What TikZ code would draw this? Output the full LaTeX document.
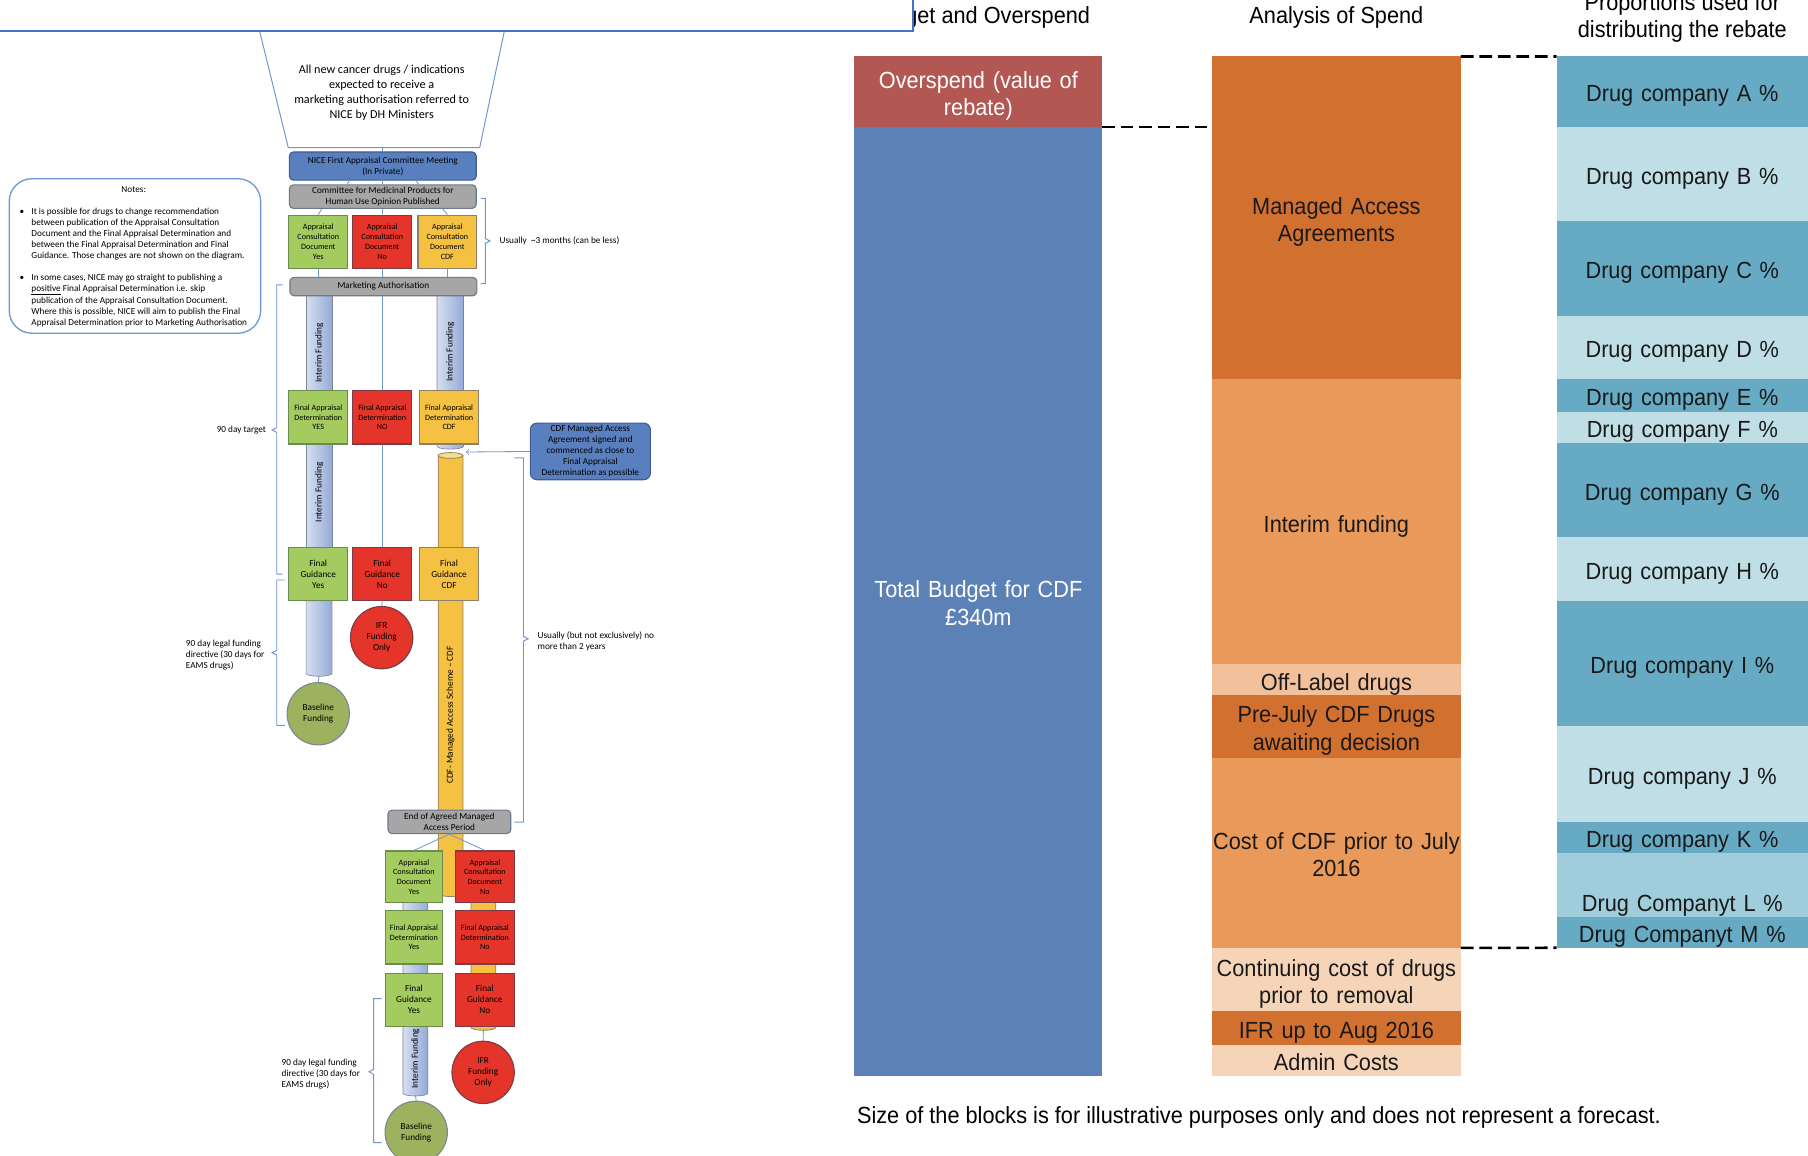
\documentclass[tikz,border=0pt]{standalone}
\usepackage{fontspec}
\usepackage{tikz}
\usetikzlibrary{calc}
\newfontfamily\chartfont{Liberation Sans}[FakeStretch=0.93]
\newfontfamily\flowfont{Carlito}
\newcommand{\chartsize}{\chartfont\fontsize{14.4}{17}\selectfont}
\newcommand{\flowmid}{\flowfont\fontsize{5.7}{6.8}\selectfont}
\newcommand{\flowsmall}{\flowfont\fontsize{5}{6}\selectfont}
\newcommand{\flowbig}{\flowfont\fontsize{7.5}{9.1}\selectfont}
\definecolor{overred}{HTML}{B35753}
\definecolor{budgetblue}{HTML}{5B81B7}
\definecolor{spenddark}{HTML}{D2702F}
\definecolor{spendmid}{HTML}{E99A5B}
\definecolor{spendlight}{HTML}{F2C19B}
\definecolor{spendpale}{HTML}{F5D4B8}
\definecolor{tealdark}{HTML}{67AAC4}
\definecolor{teallight}{HTML}{BFDEE6}
\definecolor{tealmid}{HTML}{A0CDDB}
\definecolor{lineblue}{HTML}{6F97CF}
\definecolor{titleblue}{HTML}{4472C4}
\definecolor{niceblue}{HTML}{5A7FBF}
\definecolor{niceedge}{HTML}{3D5C94}
\definecolor{stepgray}{HTML}{A6A6A6}
\definecolor{grayedge}{HTML}{6D7A8A}
\definecolor{yesgreen}{HTML}{A3CB5F}
\definecolor{yesedge}{HTML}{6A8C4E}
\definecolor{nored}{HTML}{E5352A}
\definecolor{noedge}{HTML}{7C3B45}
\definecolor{cdfamber}{HTML}{F4C143}
\definecolor{cdfedge}{HTML}{8D8068}
\definecolor{cdflight}{HTML}{FADD8A}
\definecolor{pipelight}{HTML}{D6DFF1}
\definecolor{pipedark}{HTML}{94AAD6}
\definecolor{pipeedge}{HTML}{7F8797}
\definecolor{baseolive}{HTML}{9CB25E}
\tikzset{
	spendblock/.style={inner sep=0pt, outer sep=0pt, minimum width=5.4cm, text width=5.4cm, align=center, font=\chartsize, text=black!90,
		execute at begin node={\rule{0pt}{1.09em}}, execute at end node={\rule[-0.21em]{0pt}{0.21em}}},
	rebateblock/.style={spendblock, minimum width=5.45cm},
	budgetblock/.style={spendblock, minimum width=5.375cm, text width=5.375cm, text=white},
	rebateline/.style={line width=1.65pt, dash pattern=on 7.8pt off 3.6pt},
	flowline/.style={draw=lineblue, line width=0.5pt},
	bracket/.style={draw=lineblue, line width=0.6pt},
	stepbox/.style={rectangle, rounded corners=2.5pt, draw=grayedge, line width=0.7pt, fill=stepgray, inner sep=0pt, minimum width=4.05cm, align=center, font=\flowmid},
	choice/.style={rectangle, line width=0.7pt, inner sep=0pt, minimum width=1.275cm, minimum height=1.15cm, align=center, font=\flowsmall},
	yesbox/.style={choice, fill=yesgreen, draw=yesedge},
	nobox/.style={choice, fill=nored, draw=noedge},
	cdfbox/.style={choice, fill=cdfamber, draw=cdfedge},
	outcome/.style={circle, line width=0.7pt, minimum size=1.35cm, inner sep=0pt, align=center, font=\flowmid},
	pipeshade/.style={left color=pipelight, right color=pipedark, draw=pipeedge, line width=0.4pt},
	cdfpipe/.style={fill=cdfamber, draw=cdfedge, line width=0.5pt},
	pipetext/.style={rotate=90, font=\flowmid, inner sep=0pt},
	sidenote/.style={font=\flowmid, align=left, inner sep=0pt}
}
\begin{document}
\begin{tikzpicture}[x=0.025cm, y=-0.025cm]
	\useasboundingbox (0,0) rectangle (1568,1002);
	\clip (0,0) rectangle (1568,1002);
	\fill[white] (0,0) rectangle (1568,1002);
	%headings
	\node[font=\chartsize] (budgethead) at (848.5,15) {Budget and Overspend};
	\node[font=\chartsize] (spendhead) at (1159,15) {Analysis of Spend};
	\node[font=\chartsize, align=center] (rebatehead) at (1459,15.5) {Proportions used for\\distributing the rebate};
	%funnel
	\draw[lineblue, line width=0.6pt, fill=white] (221,10) -- (441,10) -- (416,128) -- (250,128) -- cycle;
	\node[font=\flowbig, align=center] (entry) at (331,80.5) {All new cancer drugs / indications\\expected to receive a\\marketing authorisation referred to\\NICE by DH Ministers};
	\coordinate (entrybase) at (332,128);
	%title box
	\draw[titleblue, line width=1.2pt, fill=white] (-10,-10) rectangle (792,27);
	%budget column
	\node[budgetblock, fill=overred, minimum height=1.525cm] (over) at (848.5,79.5) {Overspend (value of\\rebate)};
	\node[budgetblock, fill=budgetblue, minimum height=20.575cm] (budget) at (848.5,521.5) {Total Budget for CDF\\£340m};
	%spend column
	\node[spendblock, fill=spenddark, minimum height=7cm] (maa) at (1159,189) {Managed Access\\Agreements};
	\node[spendblock, fill=spendmid, minimum height=6.175cm] (interim) at (1159,452.5) {Interim funding};
	\node[spendblock, fill=spendlight, minimum height=0.675cm] (offlabel) at (1159,589.5) {Off-Label drugs};
	\node[spendblock, fill=spenddark, minimum height=1.35cm] (prejuly) at (1159,630) {Pre-July CDF Drugs\\awaiting decision};
	\node[spendblock, fill=spendmid, minimum height=4.125cm] (costcdf) at (1159,739.5) {Cost of CDF prior to July\\2016};
	\node[spendblock, fill=spendpale, minimum height=1.375cm] (continuing) at (1159,849.5) {Continuing cost of drugs\\prior to removal};
	\node[spendblock, fill=spenddark, minimum height=0.725cm] (ifrspend) at (1159,891.5) {IFR up to Aug 2016};
	\node[spendblock, fill=spendpale, minimum height=0.675cm] (admin) at (1159,919.5) {Admin Costs};
	%rebate column
	\node[rebateblock, fill=tealdark, minimum height=1.525cm] (compa) at (1459,79.5) {Drug company A \%};
	\node[rebateblock, fill=teallight, minimum height=2.05cm] (compb) at (1459,151) {Drug company B \%};
	\node[rebateblock, fill=tealdark, minimum height=2.05cm] (compc) at (1459,233) {Drug company C \%};
	\node[rebateblock, fill=teallight, minimum height=1.375cm] (compd) at (1459,301.5) {Drug company D \%};
	\node[rebateblock, fill=tealdark, minimum height=0.7cm] (compe) at (1459,343) {Drug company E \%};
	\node[rebateblock, fill=teallight, minimum height=0.675cm] (compf) at (1459,370.5) {Drug company F \%};
	\node[rebateblock, fill=tealdark, minimum height=2.05cm] (compg) at (1459,425) {Drug company G \%};
	\node[rebateblock, fill=teallight, minimum height=1.375cm] (comph) at (1459,493.5) {Drug company H \%};
	\node[rebateblock, fill=tealdark, minimum height=2.725cm] (compi) at (1459,575.5) {Drug company I \%};
	\node[rebateblock, fill=teallight, minimum height=2.075cm] (compj) at (1459,671.5) {Drug company J \%};
	\node[rebateblock, fill=tealdark, minimum height=0.675cm] (compk) at (1459,726.5) {Drug company K \%};
	\node[rebateblock, fill=tealmid, minimum height=1.375cm, text height=33pt, text depth=0pt] (compl) at (1459,767.5) {Drug Companyt L \%};
	\node[rebateblock, fill=tealdark, minimum height=0.675cm] (compm) at (1459,808.5) {Drug Companyt M \%};
	%dashed links
	\draw[rebateline] (over.south east) -- (over.south east -| maa.west);
	\draw[rebateline] (maa.north east) -- (compa.north west);
	\draw[rebateline] (costcdf.south east) -- (compm.south west);
	\node[font=\chartsize, anchor=west, inner sep=0pt] (sizenote) at (743,969) {Size of the blocks is for illustrative purposes only and does not represent a forecast.};
	%pipes
	\shadedraw[pipeshade] (265.5,256) rectangle (288,340);
	\shadedraw[pipeshade] (379,256) -- (379,387) arc[start angle=180, end angle=0, x radius=11.5, y radius=2.5] -- (402,256) -- cycle;
	\shadedraw[pipeshade] (265.5,385) rectangle (288,476);
	\shadedraw[pipeshade] (265.5,521) -- (265.5,584) arc[start angle=180, end angle=0, x radius=11.25, y radius=2.5] -- (288,521) -- cycle;
	\filldraw[cdfpipe] (380,395) -- (380,775) arc[start angle=180, end angle=0, x radius=10.75, y radius=2.5] -- (401.5,395) -- cycle;
	\filldraw[fill=cdflight, draw=cdfedge, line width=0.5pt] (390.75,395) ellipse [x radius=10.75, y radius=2.5];
	\shadedraw[pipeshade] (349.5,780) -- (349.5,948) arc[start angle=180, end angle=0, x radius=10.75, y radius=2.5] -- (371,780) -- cycle;
	\filldraw[cdfpipe] (408.5,780) -- (408.5,891) arc[start angle=180, end angle=0, x radius=10.75, y radius=2.5] -- (430,780) -- cycle;
	\node[pipetext] (interimone) at (276.75,306) {Interim Funding};
	\node[pipetext] (interimtwo) at (390.5,305) {Interim Funding};
	\node[pipetext] (interimthree) at (276.75,427) {Interim Funding};
	\node[pipetext] (cdfscheme) at (390.75,620) {CDF- Managed Access Scheme – CDF};
	\node[pipetext] (interimfour) at (360.25,918) {Interim Funding};
	%appraisal steps
	\node[stepbox, fill=niceblue, draw=niceedge, minimum height=0.61cm] (nicemeet) at (332,144) {NICE First Appraisal Committee Meeting\\(In Private)};
	\node[stepbox, minimum height=0.51cm] (chmp) at (332,170.5) {Committee for Medicinal Products for\\Human Use Opinion Published};
	\node[yesbox] (acdyes) at (276,209.6) {Appraisal\\Consultation\\Document\\Yes};
	\node[nobox] (acdno) at (331.5,209.6) {Appraisal\\Consultation\\Document\\No};
	\node[cdfbox] (acdcdf) at (388,209.6) {Appraisal\\Consultation\\Document\\CDF};
	\node[stepbox, minimum height=0.4cm] (marketing) at (332.5,248.5) {Marketing Authorisation};
	\node[yesbox] (fadyes) at (276,362) {Final Appraisal\\Determination\\YES};
	\node[nobox] (fadno) at (331.5,362) {Final Appraisal\\Determination\\NO};
	\node[cdfbox] (fadcdf) at (389.5,362) {Final Appraisal\\Determination\\CDF};
	\node[yesbox, font=\flowmid] (fgyes) at (276,498) {Final\\Guidance\\Yes};
	\node[nobox, font=\flowmid] (fgno) at (331.5,498) {Final\\Guidance\\No};
	\node[cdfbox, font=\flowmid] (fgcdf) at (389.5,498) {Final\\Guidance\\CDF};
	\node[outcome, fill=nored, draw=noedge] (ifrno) at (331,553) {IFR\\Funding\\Only};
	\node[outcome, fill=baseolive, draw=pipeedge] (baseyes) at (276,619) {Baseline\\Funding};
	\node[stepbox, fill=niceblue, draw=niceedge, minimum width=2.6cm, minimum height=1.225cm, rounded corners=4pt] (mascallout) at (512,391.5) {CDF Managed Access\\Agreement signed and\\commenced as close to\\Final Appraisal\\Determination as possible};
	\node[stepbox, minimum width=2.66cm, minimum height=0.51cm] (endperiod) at (389.75,712.75) {End of Agreed Managed\\Access Period};
	%after managed access
	\node[yesbox, minimum width=1.25cm, minimum height=1.125cm] (acdyestwo) at (359,760.5) {Appraisal\\Consultation\\Document\\Yes};
	\node[nobox, minimum height=1.125cm] (acdnotwo) at (420.5,760.5) {Appraisal\\Consultation\\Document\\No};
	\node[yesbox, minimum width=1.25cm] (fadyestwo) at (359,813) {Final Appraisal\\Determination\\Yes};
	\node[nobox] (fadnotwo) at (420.5,813) {Final Appraisal\\Determination\\No};
	\node[yesbox, minimum width=1.25cm, font=\flowmid] (fgyestwo) at (359,867) {Final\\Guidance\\Yes};
	\node[nobox, font=\flowmid] (fgnotwo) at (420.5,867) {Final\\Guidance\\No};
	\node[outcome, fill=nored, draw=noedge] (ifrnotwo) at (419,930) {IFR\\Funding\\Only};
	\node[outcome, fill=baseolive, draw=pipeedge] (baseyestwo) at (361,982) {Baseline\\Funding};
	%connectors
	\draw[flowline] (nicemeet.north) -- (entrybase);
	\draw[flowline] ($(nicemeet.south)+(-29,0)$) -- ($(chmp.north)+(-31,0)$);
	\draw[flowline] (nicemeet.south) -- (chmp.north);
	\draw[flowline] ($(nicemeet.south)+(29,0)$) -- ($(chmp.north)+(31,0)$);
	\draw[flowline] ($(chmp.south)+(-53,0)$) -- (acdyes.north);
	\draw[flowline] (chmp.south) -- (acdno.north);
	\draw[flowline] ($(chmp.south)+(52,0)$) -- (acdcdf.north);
	\draw[flowline] (acdyes.south) -- (acdyes.south |- marketing.north);
	\draw[flowline] (acdno.south) -- (acdno.south |- marketing.north);
	\draw[flowline] (acdcdf.south) -- (acdcdf.south |- marketing.north);
	\draw[flowline] (marketing.south -| fadno.north) -- (fadno.north);
	\draw[flowline] (fadno.south) -- (fgno.north);
	\draw[flowline] (fgno.south) -- (ifrno.north);
	\coordinate (yesend) at (276.75,586);
	\draw[flowline] (yesend) -- (baseyes.north);
	\coordinate (cdfpipeside) at (404,392);
	\draw[flowline, ->] (mascallout.west) -- (cdfpipeside);
	\draw[flowline] (endperiod.south) -- (acdyestwo.north);
	\draw[flowline] (endperiod.south) -- (acdnotwo.north);
	\coordinate (yesendtwo) at (360.25,950);
	\draw[flowline] (yesendtwo) -- (baseyestwo.north);
	\coordinate (noendtwo) at (419.25,893);
	\draw[flowline] (noendtwo) -- (ifrnotwo.north);
	%brackets
	\draw[bracket] (417,172) -- (421,172) -- (421,207) -- (425,209) -- (421,211) -- (421,246) -- (417,246);
	\node[sidenote, anchor=west] (threemonths) at (433,209) {Usually\ \ \textasciitilde3 months (can be less)};
	\draw[bracket] (245,247) -- (240,247) -- (240,371) -- (236,373) -- (240,375) -- (240,498) -- (245,498);
	\node[sidenote, anchor=east] (ninetytarget) at (231,373) {90 day target};
	\draw[bracket] (247,503) -- (240,503) -- (240,564) -- (236,566) -- (240,568) -- (240,629) -- (247,629);
	\node[sidenote, anchor=west] (ninetylegal) at (161,568) {90 day legal funding\\directive (30 days for\\EAMS drugs)};
	\draw[bracket] (446,397) -- (454,397) -- (454,552) -- (458,554) -- (454,556) -- (454,713) -- (446,713);
	\node[sidenote, anchor=west] (twoyears) at (466,556) {Usually (but not exclusively) no\\more than 2 years};
	\draw[bracket] (331,866) -- (324,866) -- (324,927.5) -- (320,929.5) -- (324,931.5) -- (324,991) -- (331,991);
	\node[sidenote, anchor=west] (ninetylegaltwo) at (244,931.5) {90 day legal funding\\directive (30 days for\\EAMS drugs)};
	%notes
	\node[draw=lineblue, line width=0.8pt, rounded corners=14pt, minimum width=5.45cm, minimum height=3.35cm, fill=white] (notes) at (117,222) {};
	\node[font=\flowmid] (notestitle) at (116,164) {Notes:};
	\node[font=\flowmid, inner sep=0pt] (bulletone) at (19,184) {\textbullet};
	\node[sidenote, anchor=north west] (noteone) at (27,180) {It is possible for drugs to change recommendation\\between publication of the Appraisal Consultation\\Document and the Final Appraisal Determination and\\between the Final Appraisal Determination and Final\\Guidance. Those changes are not shown on the diagram.};
	\node[font=\flowmid, inner sep=0pt] (bullettwo) at (19,241) {\textbullet};
	\node[sidenote, anchor=north west] (notetwo) at (27,237) {In some cases, NICE may go straight to publishing a\\\underline{positive} Final Appraisal Determination i.e. skip\\publication of the Appraisal Consultation Document.\\Where this is possible, NICE will aim to publish the Final\\Appraisal Determination prior to Marketing Authorisation};
\end{tikzpicture}
\end{document}
